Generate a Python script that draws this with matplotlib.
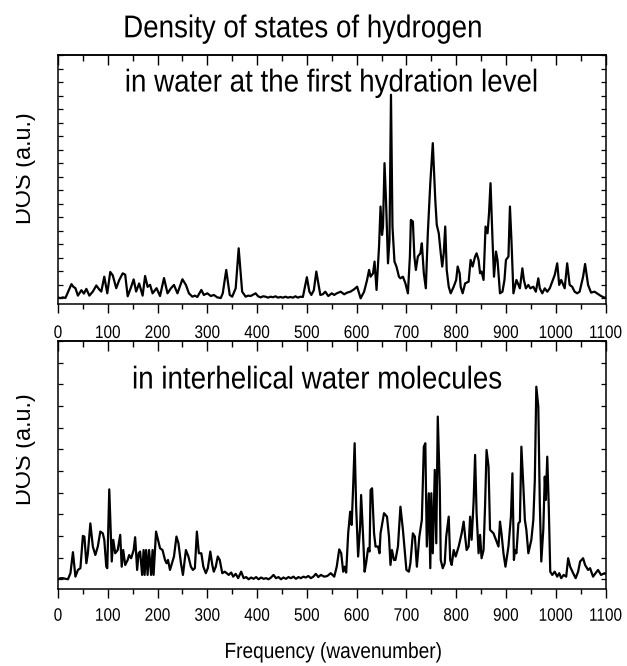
import matplotlib
matplotlib.use("Agg")
import matplotlib.pyplot as plt
import numpy as np
from matplotlib.patches import Rectangle
from matplotlib.patheffects import AbstractPathEffect
from matplotlib.ticker import MultipleLocator
from matplotlib.transforms import Affine2D

plt.rcParams["font.family"] = ["Liberation Sans", "DejaVu Sans"]

# DOS of hydrogen, first hydration level
top_freq = [0, 5, 10, 15, 20, 27, 31, 35, 40, 47,
            52, 57, 63, 70, 77, 83, 87, 93, 99, 105,
            110, 117, 123, 130, 135, 140, 147, 152, 157, 163,
            170, 175, 180, 185, 190, 198, 205, 213, 220, 227,
            233, 240, 250, 257, 263, 270, 275, 280, 288, 293,
            300, 307, 313, 320, 327, 331, 338, 345, 350, 357,
            363, 370, 377, 382, 387, 397, 402, 407, 412, 417,
            422, 427, 432, 437, 442, 447, 452, 457, 462, 467,
            472, 477, 482, 487, 492, 500, 505, 509, 514, 519,
            527, 532, 537, 543, 550, 555, 560, 568, 575, 581,
            588, 595, 601, 608, 615, 621, 625, 628, 633, 636,
            640, 645, 648, 651, 653, 656, 659, 663, 666, 669,
            672, 676, 680, 685, 688, 693, 698, 703, 707, 709,
            713, 716, 719, 723, 728, 731, 735, 739, 743, 748,
            753, 758, 761, 765, 769, 772, 775, 778, 781, 785,
            789, 795, 800, 803, 807, 809, 813, 818, 825, 829,
            833, 838, 841, 845, 848, 851, 855, 859, 863, 866,
            869, 873, 876, 880, 883, 888, 893, 897, 900, 905,
            908, 911, 915, 918, 921, 928, 933, 936, 940, 945,
            949, 955, 960, 965, 968, 973, 978, 983, 988, 993,
            998, 1003, 1007, 1011, 1018, 1023, 1028, 1033, 1038, 1043,
            1048, 1055, 1059, 1065, 1071, 1078, 1085, 1091, 1098, 1100]
top_dos = [0.05, 0.02, 0.07, 0.03, 0.45, 1.05, 0.85, 0.75, 0.2, 0.6,
           0.35, 0.7, 0.2, 0.5, 0.95, 0.65, 0.5, 1.6, 0.37, 1.95,
           1.7, 0.75, 1.35, 1.85, 1.75, 0.15, 0.85, 1.4, 0.5, 1.1,
           0.2, 1.65, 0.85, 1.0, 0.37, 0.75, 0.17, 1.5, 0.37, 0.75,
           0.99, 0.37, 1.41, 0.99, 0.37, 0.12, 0.2, 0.1, 0.62, 0.25,
           0.37, 0.17, 0.25, 0.07, 0.02, 0.37, 2.1, 0.25, 0.12, 0.74,
           3.7, 0.49, 0.12, 0.2, 0.17, 0.37, 0.15, 0.07, 0.15, 0.12,
           0.05, 0.12, 0.08, 0.15, 0.05, 0.1, 0.05, 0.12, 0.05, 0.1,
           0.05, 0.15, 0.05, 0.12, 0.1, 1.56, 0.5, 0.25, 0.6, 1.98,
           0.25, 0.3, 0.49, 0.17, 0.37, 0.25, 0.37, 0.49, 0.3, 0.42,
           0.5, 0.67, 0.86, 0.0, 0.49, 1.36, 2.1, 1.6, 1.85, 2.72,
           0.62, 3.83, 6.79, 4.69, 5.31, 10.0, 7.28, 2.59, 4.32, 15.06,
           5.31, 2.72, 2.35, 1.6, 1.48, 1.6, 1.11, 0.37, 3.09, 5.8,
           5.68, 3.09, 2.1, 3.09, 3.33, 4.07, 1.85, 0.74, 4.81, 8.52,
           11.48, 7.28, 5.43, 4.81, 3.33, 2.35, 3.33, 5.31, 2.1, 0.86,
           0.37, 0.86, 1.36, 2.35, 1.85, 0.86, 0.37, 1.11, 1.23, 2.84,
           2.35, 3.09, 3.33, 2.84, 1.85, 1.98, 1.36, 5.31, 4.81, 6.3,
           8.52, 4.32, 1.6, 3.46, 2.84, 0.37, 0.49, 1.36, 2.84, 3.09,
           6.79, 4.32, 0.37, 0.86, 1.36, 0.74, 2.22, 1.36, 0.74, 0.99,
           0.74, 0.86, 0.49, 1.48, 0.74, 0.37, 0.74, 0.49, 0.74, 1.23,
           1.73, 2.59, 0.99, 1.36, 0.74, 2.59, 0.99, 0.86, 0.49, 0.37,
           0.49, 1.6, 2.54, 0.99, 0.42, 0.49, 0.32, 0.17, 0.05, 0.05]

# DOS of hydrogen, interhelical water
bottom_freq = [0, 5, 10, 15, 20, 25, 30, 35, 40, 45,
               50, 53, 57, 60, 65, 70, 75, 80, 85, 90,
               93, 97, 99, 103, 108, 111, 115, 120, 125, 128,
               131, 135, 140, 143, 147, 152, 155, 159, 162, 165,
               169, 172, 174, 177, 180, 183, 187, 190, 192, 197,
               201, 205, 210, 215, 218, 221, 225, 229, 233, 238,
               242, 247, 251, 257, 262, 267, 271, 275, 279, 283,
               288, 292, 297, 301, 306, 310, 313, 317, 321, 325,
               330, 335, 339, 343, 348, 352, 357, 362, 368, 373,
               378, 383, 388, 393, 398, 403, 408, 413, 418, 423,
               428, 433, 438, 443, 448, 453, 458, 463, 468, 473,
               478, 483, 488, 493, 498, 503, 508, 513, 518, 523,
               528, 535, 541, 548, 555, 560, 565, 569, 573, 576,
               579, 583, 587, 590, 593, 596, 599, 603, 607, 609,
               613, 616, 619, 623, 626, 628, 631, 635, 638, 643,
               646, 648, 651, 655, 658, 661, 665, 668, 671, 675,
               678, 683, 688, 693, 697, 700, 705, 708, 713, 717,
               721, 726, 731, 735, 738, 741, 745, 748, 750, 753,
               757, 760, 763, 767, 769, 773, 777, 780, 785, 788,
               791, 795, 799, 805, 808, 811, 815, 818, 821, 825,
               828, 831, 835, 838, 841, 845, 848, 851, 855, 858,
               861, 865, 868, 875, 880, 885, 888, 891, 895, 899,
               905, 910, 913, 916, 918, 921, 925, 928, 931, 935,
               938, 941, 945, 948, 951, 955, 958, 961, 965, 968,
               971, 975, 978, 980, 983, 986, 989, 993, 998, 1003,
               1007, 1011, 1016, 1021, 1025, 1029, 1035, 1040, 1045, 1049,
               1055, 1059, 1065, 1069, 1075, 1080, 1085, 1091, 1098, 1100]
bottom_dos = [0.0, 0.05, 0.05, 0.02, 0.0, 0.28, 1.25, 0.12, 0.43, 0.51,
              2.0, 1.97, 0.74, 1.2, 2.58, 1.51, 1.12, 1.51, 2.2, 2.12,
              1.82, 0.58, 0.51, 4.15, 0.82, 1.82, 1.2, 1.35, 2.05, 0.58,
              1.35, 0.66, 0.89, 1.12, 0.97, 1.35, 1.94, 0.43, 1.2, 1.28,
              0.2, 1.35, 0.2, 1.35, 0.2, 1.35, 0.2, 1.35, 0.2, 2.2,
              1.82, 1.43, 1.35, 0.89, 0.74, 0.89, 0.43, 0.74, 1.05, 1.97,
              1.66, 0.74, 0.2, 1.35, 1.05, 0.58, 0.43, 0.51, 2.2, 1.2,
              1.2, 0.58, 0.28, 0.51, 1.28, 0.66, 0.35, 0.58, 1.05, 0.89,
              0.28, 0.35, 0.28, 0.2, 0.31, 0.12, 0.25, 0.05, 0.35, 0.05,
              0.1, 0.0, 0.08, 0.02, 0.1, 0.0, 0.08, 0.02, 0.05, 0.0,
              0.08, 0.2, 0.05, 0.1, 0.0, 0.08, 0.02, 0.1, 0.05, 0.12,
              0.02, 0.1, 0.05, 0.12, 0.08, 0.15, 0.05, 0.12, 0.25, 0.1,
              0.2, 0.12, 0.15, 0.28, 0.12, 0.58, 1.38, 1.2, 0.35, 0.58,
              0.31, 2.12, 3.12, 2.51, 4.28, 6.28, 3.35, 1.05, 2.43, 3.89,
              1.97, 0.35, 0.74, 1.43, 1.28, 4.12, 4.2, 2.12, 1.51, 1.51,
              1.2, 2.12, 2.51, 3.05, 2.97, 2.89, 1.97, 0.66, 1.35, 0.89,
              0.89, 1.51, 3.35, 2.28, 1.2, 0.43, 0.35, 0.74, 2.12, 1.97,
              0.58, 1.97, 2.74, 6.12, 6.28, 1.51, 3.97, 0.51, 3.97, 1.2,
              5.05, 1.66, 7.51, 4.28, 0.89, 0.51, 0.74, 1.97, 2.89, 0.89,
              0.66, 1.35, 1.05, 1.51, 1.82, 2.12, 2.66, 1.97, 1.35, 1.51,
              2.89, 1.82, 3.58, 5.74, 3.05, 1.2, 2.05, 0.97, 1.35, 3.35,
              5.97, 5.2, 2.28, 2.12, 1.82, 1.51, 2.66, 2.12, 1.2, 0.58,
              1.51, 2.89, 4.89, 0.89, 1.35, 1.2, 2.58, 2.66, 6.12, 4.28,
              2.74, 2.28, 1.2, 1.51, 1.82, 2.74, 4.58, 8.89, 7.97, 3.51,
              0.82, 2.28, 4.74, 3.66, 5.66, 3.35, 0.35, 0.2, 0.35, 0.12,
              0.28, 0.05, 0.2, 0.12, 0.97, 0.58, 0.28, 0.05, 0.35, 0.82,
              0.97, 0.66, 0.43, 0.51, 0.12, 0.28, 0.43, 0.2, 0.28, 0.25]

x_ticks = list(range(0, 1101, 100))
panel_labels = ["in water at the first hydration level", "in interhelical water molecules"]


class Squeeze(AbstractPathEffect):
    # narrow glyphs about their centre, the original lettering is condensed
    def __init__(self, sx):
        super().__init__()
        self.sx = sx

    def draw_path(self, renderer, gc, tpath, affine, rgbFace=None):
        ext = tpath.get_extents()
        mid = (ext.x0 + ext.x1) / 2 if np.isfinite(ext.x0) else 0.0
        squeeze = Affine2D().translate(-mid, 0).scale(self.sx, 1).translate(mid, 0)
        renderer.draw_path(gc, tpath, squeeze + affine, rgbFace)


W, H = 627, 666
fig = plt.figure(figsize=(W / 100, H / 100), dpi=100)
ax1 = fig.add_axes([58 / W, 1 - 304 / H, 547.5 / W, 249 / H])
ax2 = fig.add_axes([58 / W, 1 - 589 / H, 547.5 / W, 248 / H])

setup = [(ax1, top_freq, top_dos, (-0.42, 18.0), 19, 8.6),
         (ax2, bottom_freq, bottom_dos, (-0.45, 11.0), 12, 7.0)]

for ax, freq, dos, ylim, nyt, pad in setup:
    ax.plot(freq, dos, color="black", lw=1.6)
    ax.set_xlim(0, 1100)
    ax.set_ylim(*ylim)
    ax.set_xticks(x_ticks, [str(t) for t in x_ticks])
    ax.xaxis.set_minor_locator(MultipleLocator(50))
    ax.set_yticks(range(nyt))
    ax.tick_params(axis="x", which="both", direction="out", top=False,
                   width=1.0, labelsize=13, pad=pad)
    ax.tick_params(axis="x", which="major", length=6.5)
    ax.tick_params(axis="x", which="minor", length=3.6)
    ax.tick_params(axis="y", which="both", direction="in", left=True, right=True,
                   labelleft=False, length=3.4, width=0.9)
    for spine in ax.spines.values():
        spine.set_linewidth(1.1)
    for lab in ax.get_xticklabels():
        lab.set_path_effects([Squeeze(0.85)])

    sec = ax.secondary_xaxis("top")
    sec.xaxis.set_major_locator(MultipleLocator(100))
    sec.xaxis.set_minor_locator(MultipleLocator(50))
    sec.tick_params(which="both", direction="in", labeltop=False, width=1.0)
    sec.tick_params(which="major", length=7)
    sec.tick_params(which="minor", length=4.3)
    sec.spines["top"].set_linewidth(1.1)

for label, x, y in [(panel_labels[0], 331.5, 91.5), (panel_labels[1], 317, 388.5)]:
    fig.text(x / W, 1 - y / H, label, ha="center", va="baseline", fontsize=22.7,
             path_effects=[Squeeze(0.88)])

fig.text(303 / W, 1 - 37.3 / H, "Density of states of hydrogen", ha="center",
         va="baseline", fontsize=22.7, path_effects=[Squeeze(0.88)])
fig.text(333 / W, 1 - 658 / H, "Frequency (wavenumber)", ha="center",
         va="baseline", fontsize=15.8, path_effects=[Squeeze(0.87)])

for yc in (168, 449):
    fig.text(30.5 / W, 1 - yc / H, "DOS (a.u.)", rotation=90, rotation_mode="anchor",
             ha="center", va="baseline", fontsize=16.8)
# the y labels are cut at the left edge in the original
fig.add_artist(Rectangle((0, 0), 16 / W, 1, transform=fig.transFigure,
                         facecolor="white", edgecolor="none", zorder=10))

fig.savefig("out.png", dpi=100)
